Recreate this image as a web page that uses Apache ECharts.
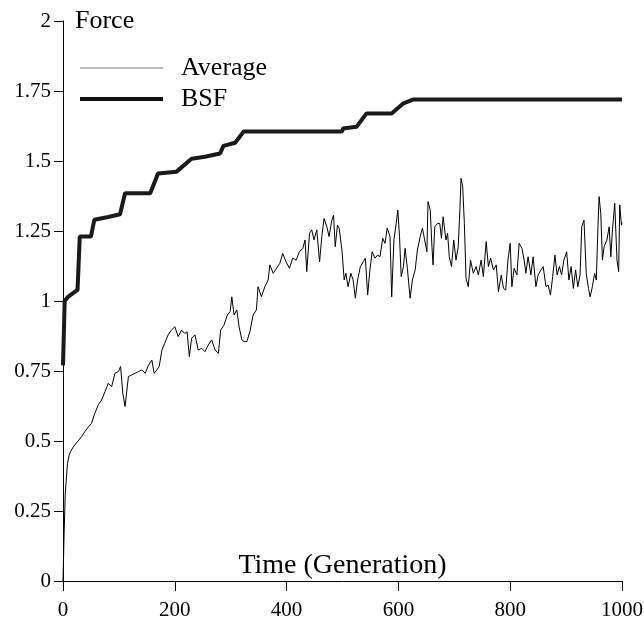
<!DOCTYPE html>
<html>
<head>
<meta charset="utf-8">
<script src="https://cdn.jsdelivr.net/npm/echarts@6/dist/echarts.min.js"></script>
<style>
  html, body { margin: 0; padding: 0; background: #fff; }
  #chart { width: 644px; height: 618px; }
</style>
</head>
<body>
<div id="chart"></div>
<script>
// best-so-far force
var bsfGen   = [0, 3, 9, 26, 30, 50, 56, 81, 102, 111, 156, 170, 203, 230, 254, 281, 287, 308, 323, 499, 501, 525, 543, 588, 609, 627, 1000];
var bsfForce = [0.77, 1.0, 1.015, 1.04, 1.23, 1.23, 1.29, 1.30, 1.31, 1.385, 1.385, 1.455, 1.462, 1.508, 1.515, 1.527, 1.554, 1.565, 1.605, 1.605, 1.616, 1.622, 1.67, 1.67, 1.706, 1.72, 1.72];

// population average force
var avgGen = [0, 2, 4, 8, 11, 15, 21, 27, 33, 39, 45, 51, 57, 63, 69, 75, 81, 87, 93, 99,
  103, 107, 111, 117, 123, 129, 135, 141, 147, 153, 159, 163, 168, 172, 177, 182, 188, 194, 200, 206,
  212, 218, 222, 226, 230, 236, 242, 248, 254, 260, 266, 272, 278, 282, 288, 294, 299, 302, 306, 311,
  315, 320, 324, 329, 335, 340, 346, 349, 355, 361, 367, 370, 376, 382, 388, 393, 399, 405, 411, 417,
  423, 429, 433, 436, 441, 445, 449, 454, 459, 463, 467, 472, 476, 481, 484, 487, 491, 494, 499, 503,
  506, 510, 515, 519, 523, 527, 532, 537, 541, 545, 549, 553, 558, 563, 567, 572, 576, 580, 585, 588,
  592, 596, 599, 602, 605, 609, 612, 616, 621, 625, 630, 634, 639, 643, 646, 651, 653, 657, 660, 662,
  665, 670, 674, 677, 680, 685, 688, 691, 695, 699, 703, 707, 710, 712, 715, 718, 721, 725, 729, 734,
  739, 743, 748, 752, 757, 761, 765, 770, 775, 779, 784, 788, 792, 796, 800, 803, 807, 812, 816, 821,
  825, 828, 832, 837, 841, 846, 850, 855, 859, 864, 868, 872, 876, 880, 884, 888, 892, 896, 901, 905,
  909, 913, 917, 921, 925, 928, 932, 936, 940, 943, 947, 951, 954, 957, 959, 962, 965, 968, 973, 977,
  980, 983, 987, 991, 994, 996, 999, 1000];
var avgForce = [0, 0.17, 0.31, 0.42, 0.45, 0.468, 0.486, 0.50, 0.515, 0.533, 0.549, 0.563, 0.599, 0.629, 0.646, 0.676, 0.706, 0.694, 0.742, 0.748,
  0.766, 0.67, 0.623, 0.73, 0.736, 0.742, 0.748, 0.754, 0.742, 0.771, 0.789, 0.742, 0.754, 0.766, 0.825, 0.849, 0.879, 0.896, 0.908, 0.873,
  0.896, 0.884, 0.89, 0.801, 0.867, 0.879, 0.825, 0.831, 0.819, 0.843, 0.861, 0.825, 0.813, 0.896, 0.914, 0.95, 0.962, 1.015, 0.95, 0.968,
  0.908, 0.861, 0.855, 0.855, 0.896, 0.95, 0.968, 1.051, 1.015, 1.051, 1.075, 1.129, 1.099, 1.117, 1.135, 1.17, 1.14, 1.117, 1.153, 1.146,
  1.176, 1.188, 1.218, 1.105, 1.242, 1.254, 1.218, 1.254, 1.14, 1.23, 1.295, 1.265, 1.23, 1.289, 1.307, 1.194, 1.271, 1.26, 1.182, 1.075,
  1.099, 1.051, 1.099, 1.075, 1.01, 1.075, 1.123, 1.14, 1.153, 1.021, 1.111, 1.176, 1.153, 1.164, 1.158, 1.224, 1.206, 1.26, 1.23, 1.015,
  1.218, 1.277, 1.325, 1.23, 1.087, 1.123, 1.188, 1.117, 1.01, 1.075, 1.111, 1.182, 1.23, 1.26, 1.265, 1.176, 1.355, 1.325, 1.194, 1.129,
  1.265, 1.277, 1.277, 1.224, 1.301, 1.218, 1.242, 1.158, 1.123, 1.218, 1.146, 1.194, 1.325, 1.438, 1.408, 1.277, 1.081, 1.051, 1.146, 1.099,
  1.123, 1.093, 1.146, 1.087, 1.212, 1.123, 1.153, 1.111, 1.129, 1.033, 1.093, 1.045, 1.039, 1.146, 1.206, 1.051, 1.117, 1.093, 1.206, 1.188,
  1.146, 1.099, 1.158, 1.093, 1.158, 1.051, 1.093, 1.111, 1.123, 1.051, 1.057, 1.021, 1.087, 1.164, 1.093, 1.123, 1.093, 1.146, 1.176, 1.075,
  1.123, 1.045, 1.111, 1.051, 1.093, 1.265, 1.289, 1.099, 1.045, 1.015, 1.051, 1.099, 1.075, 1.265, 1.373, 1.313, 1.146, 1.194, 1.218, 1.265,
  1.158, 1.254, 1.349, 1.146, 1.105, 1.343, 1.271, 1.28];

var xTicks = { min: 0, max: 1000, step: 200 };
var yTicks = { min: 0, max: 2, step: 0.25 };

var serif = '"Liberation Serif", "DejaVu Serif", serif';

function pairs(xs, ys) {
    var out = [];
    for (var i = 0; i < xs.length; i++) {
        out.push([xs[i], ys[i]]);
    }
    return out;
}

var chart = echarts.init(document.getElementById('chart'), null, { renderer: 'canvas' });

chart.setOption({
    animation: false,
    backgroundColor: '#fff',
    grid: { left: 63, right: 22, top: 21, bottom: 37, containLabel: false, outerBoundsMode: 'none' },
    legend: {
        orient: 'vertical',
        left: 75,
        top: 50,
        itemWidth: 83,
        itemHeight: 14,
        itemGap: 5,
        textStyle: { fontFamily: serif, fontSize: 26, color: '#000', lineHeight: 26, padding: [0, 0, 0, 13] },
        data: [
            { name: 'Average', icon: 'path://M0,0H83V1H0Z', itemStyle: { color: '#777' } },
            { name: 'BSF', icon: 'path://M0,0H83V4H0Z', itemStyle: { color: '#111' } }
        ]
    },
    xAxis: {
        type: 'value',
        min: xTicks.min,
        max: xTicks.max,
        interval: xTicks.step,
        splitLine: { show: false },
        axisLine: { lineStyle: { color: '#000', width: 1 } },
        axisTick: { length: 10, lineStyle: { color: '#000' } },
        axisLabel: {
            color: '#000', fontFamily: serif, fontSize: 21, margin: 19,
            formatter: function (v) { return String(v); }
        }
    },
    yAxis: {
        type: 'value',
        min: yTicks.min,
        max: yTicks.max,
        interval: yTicks.step,
        name: 'Force',
        nameLocation: 'end',
        nameGap: 0,
        nameTextStyle: { color: '#000', fontFamily: serif, fontSize: 26, align: 'left', verticalAlign: 'middle', padding: [6, 0, 0, 12] },
        splitLine: { show: false },
        axisLine: { show: true, lineStyle: { color: '#000', width: 1 } },
        axisTick: { show: true, length: 9, lineStyle: { color: '#000' } },
        axisLabel: { color: '#000', fontFamily: serif, fontSize: 21, margin: 12, padding: [6, 0, 0, 0] }
    },
    graphic: [{
        type: 'text',
        x: 342.5,
        y: 566,
        style: {
            text: 'Time (Generation)',
            fill: '#000',
            font: '28px ' + serif,
            textAlign: 'center',
            textVerticalAlign: 'middle'
        }
    }],
    series: [{
        name: 'Average',
        type: 'line',
        symbol: 'none',
        data: pairs(avgGen, avgForce),
        lineStyle: { color: '#000', width: 1 },
        itemStyle: { color: '#000' }
    }, {
        name: 'BSF',
        type: 'line',
        symbol: 'none',
        data: pairs(bsfGen, bsfForce),
        lineStyle: { color: '#1a1a1a', width: 4 },
        itemStyle: { color: '#1a1a1a' }
    }]
});
</script>
</body>
</html>
